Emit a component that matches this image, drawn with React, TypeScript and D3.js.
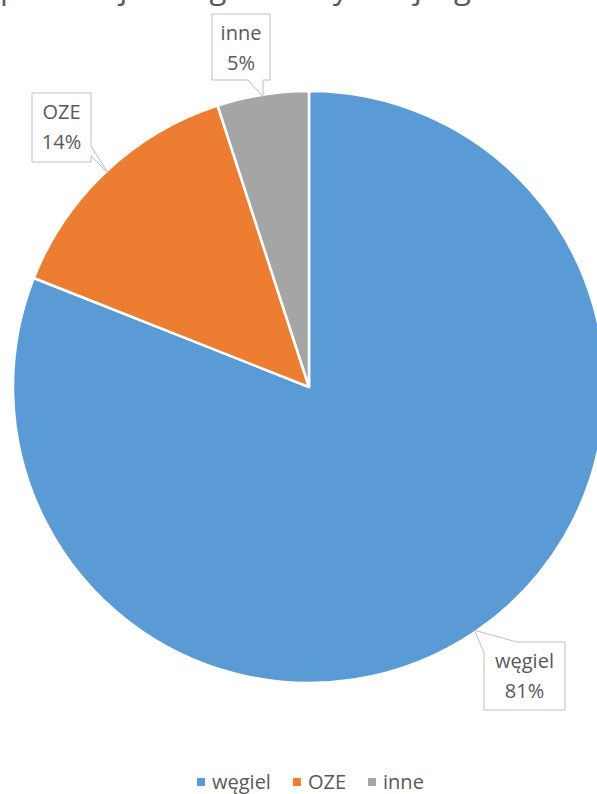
import { useEffect, useRef } from "react";
import * as d3 from "d3";

const width = 597;
const height = 794;

// data
const categories = ["węgiel", "OZE", "inne"];
const shares = [81, 14, 5];
const colors = ["#5B9BD5", "#ED7D31", "#A5A5A5"];
const titleText = "produkcji energii elektrycznej wg źródeł";

const App = () => {
  const svgRef = useRef(null);

  useEffect(() => {
    const svg = d3.select(svgRef.current);
    svg.selectAll("*").remove();

    const font = "'Open Sans', 'Noto Sans', sans-serif";
    const textColor = "#595959";

    // title, mostly cut off by the top edge
    svg.append("text")
      .attr("x", 0)
      .attr("y", -1)
      .attr("font-family", font)
      .attr("font-size", 31)
      .attr("fill", textColor)
      .text(titleText);

    const cx = 309;
    const cy = 387;
    const r = 296;

    const pie = d3.pie<number>().sort(null).value(d => d);
    const arcs = pie(shares);
    const arc = d3.arc<d3.PieArcDatum<number>>().innerRadius(0).outerRadius(r);
    const edge = d3.arc<d3.PieArcDatum<number>>().innerRadius(r - 2).outerRadius(r - 2);

    const g = svg.append("g").attr("transform", `translate(${cx},${cy})`);
    g.selectAll("path")
      .data(arcs)
      .join("path")
      .attr("d", arc)
      .attr("fill", (_, i) => colors[i])
      .attr("stroke", "#fff")
      .attr("stroke-width", 2.5)
      .attr("stroke-linejoin", "round");

    // label boxes (callouts)
    const boxes = [
      { x0: 484, y0: 642, x1: 565, y1: 710, side: "topleft" },
      { x0: 32, y0: 93, x1: 91, y1: 162, side: "right" },
      { x0: 212, y0: 14, x1: 270, y1: 80, side: "bottom" },
    ];

    arcs.forEach((a, i) => {
      const b = boxes[i];
      const [tx0, ty0] = edge.centroid(a);
      const tx = tx0 + cx;
      const ty = ty0 + cy;
      let p = "";
      if (b.side === "bottom") {
        p = `M${b.x0},${b.y0}H${b.x1}V${b.y1}H${b.x1 - 7}L${tx},${ty}L${b.x1 - 22},${b.y1}H${b.x0}Z`;
      } else if (b.side === "right") {
        p = `M${b.x0},${b.y0}H${b.x1}V${b.y1 - 16}L${tx},${ty}L${b.x1},${b.y1 - 6}V${b.y1}H${b.x0}Z`;
      } else {
        p = `M${b.x0},${b.y0 + 10}L${tx},${ty}L${b.x0 + 33},${b.y0}H${b.x1}V${b.y1}H${b.x0}Z`;
      }
      svg.append("path")
        .attr("d", p)
        .attr("fill", "#fff")
        .attr("stroke", "#BFBFBF")
        .attr("stroke-width", 1);

      const mx = (b.x0 + b.x1) / 2;
      const t = svg.append("text")
        .attr("font-family", font)
        .attr("font-size", 20)
        .attr("fill", textColor)
        .attr("text-anchor", "middle");
      t.append("tspan").attr("x", mx).attr("y", b.y0 + 26).text(categories[i]);
      t.append("tspan").attr("x", mx).attr("y", b.y0 + 56).text(`${shares[i]}%`);
    });

    // legend, laid out by text width
    const lg = svg.append("g").attr("transform", "translate(0,782)");
    let lx = 197;
    categories.forEach((c, i) => {
      lg.append("rect")
        .attr("x", lx)
        .attr("y", -4)
        .attr("width", 8)
        .attr("height", 8)
        .attr("fill", colors[i]);
      const t = lg.append("text")
        .attr("x", lx + 15)
        .attr("y", 7)
        .attr("font-family", font)
        .attr("font-size", 20)
        .attr("fill", textColor)
        .text(c);
      const w = (t.node() as SVGTextElement).getComputedTextLength();
      lx = lx + 15 + w + 22;
    });
  }, []);

  return (
    <svg
      ref={svgRef}
      width={width}
      height={height}
      style={{ position: "absolute", left: 0, top: 0, background: "#fff" }}
    />
  );
};

export default App;
